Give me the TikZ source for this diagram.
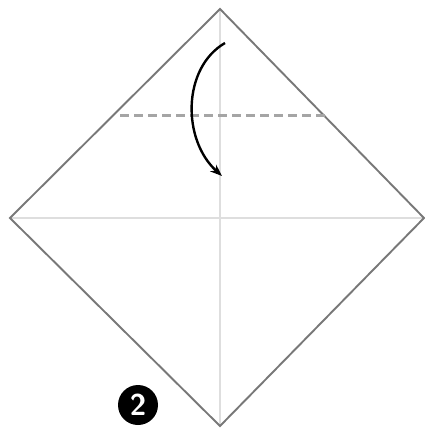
\documentclass[tikz,border=0pt]{standalone}
\definecolor{edgegray}{RGB}{120, 120, 120}
\definecolor{creasegray}{RGB}{222, 222, 222}
\definecolor{foldgray}{RGB}{165, 165, 165}
\usepackage{tikz}
\usetikzlibrary{arrows.meta, positioning}

\begin{document}
\begin{tikzpicture}[x=1pt, y=-1pt,
    paperedge/.style={draw=edgegray, line width=1.9pt, line join=miter},
    crease/.style={draw=creasegray, line width=1.2pt},
    valleyfold/.style={draw=foldgray, line width=3pt, dash pattern=on 9pt off 5pt},
    foldarrow/.style={draw=black, line width=2.4pt, -{Stealth[length=12pt, width=9pt]}},
    stepbadge/.style={circle, fill=black, inner sep=0pt, minimum size=40pt,
      text=white, font=\sffamily\bfseries\fontsize{30}{30}\selectfont}]
  \useasboundingbox (0,0) rectangle (425,432);
  % corners of the square
  \coordinate (top) at (220,9);
  \coordinate (left) at (10,218);
  \coordinate (right) at (424,218);
  \coordinate (bottom) at (220,426);
  % creases
  \draw[crease] (left) -- (right);
  \draw[crease] (top) -- (bottom);
  % paper
  \draw[paperedge] (top) -- (right) -- (bottom) -- (left) -- cycle;
  % fold line
  \coordinate (foldL) at (120,115);
  \coordinate (foldR) at (327,115);
  \draw[valleyfold] (foldL) -- (foldR);
  % arrow
  \coordinate (arrowS) at (225,43);
  \coordinate (arrowE) at (222,176);
  \draw[foldarrow] (arrowS) .. controls (182,68) and (182,140) .. (arrowE);
  % step number
  \node[stepbadge] (step2) at (138,405) {2};
\end{tikzpicture}
\end{document}
